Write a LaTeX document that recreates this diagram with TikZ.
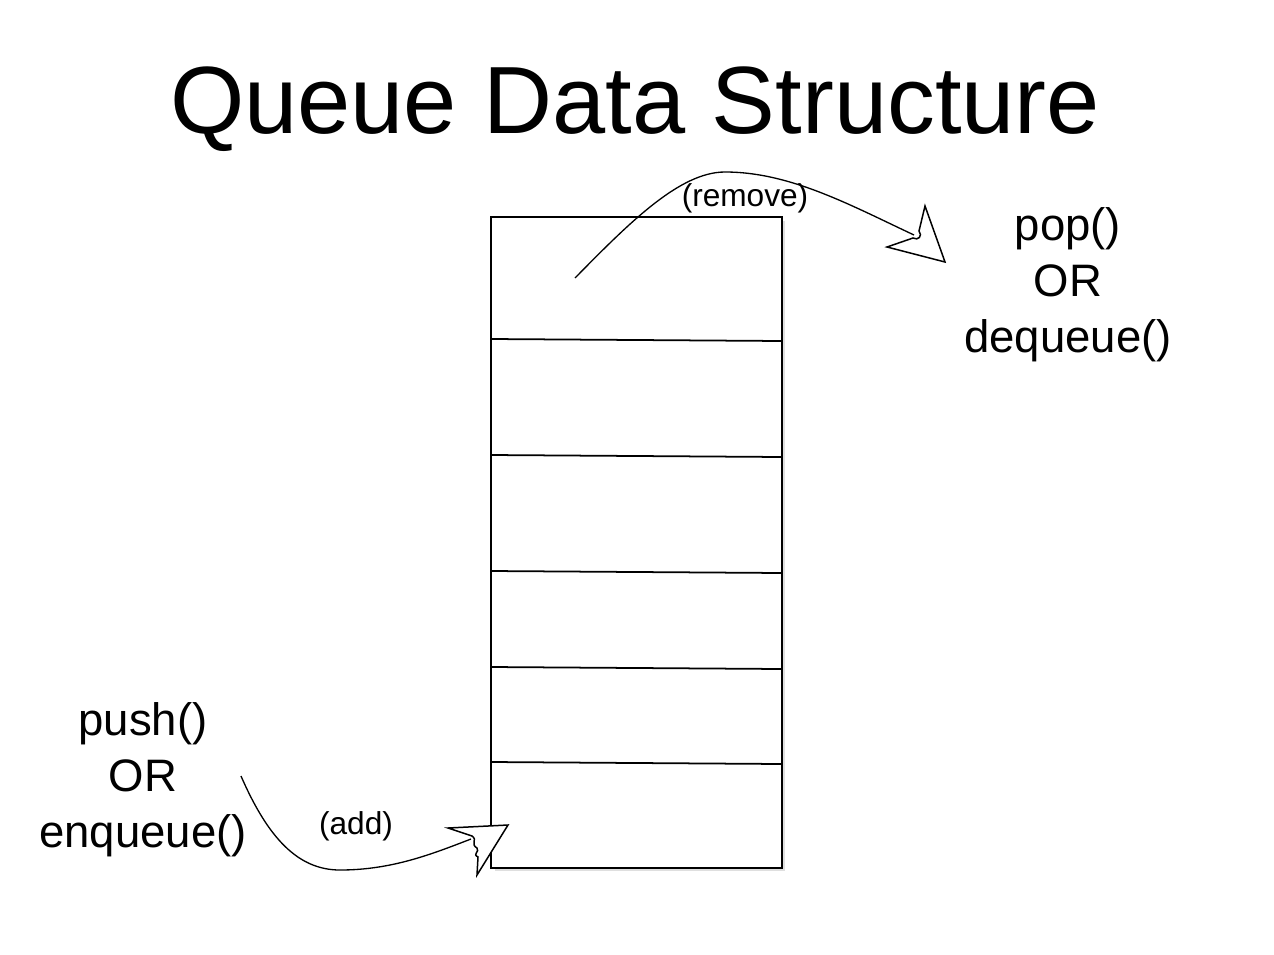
\documentclass[tikz,border=0pt]{standalone}
\usepackage{fontspec}
\setmainfont{Liberation Sans}
\usetikzlibrary{positioning,calc,shadows}

\begin{document}
\begin{tikzpicture}[
  x=0.02cm,y=-0.02cm,
  every node/.style={inner sep=0pt},
  title/.style={font=\fontsize{54.4}{60}\selectfont},
  oplabel/.style={font=\fontsize{25.9}{31.9}\selectfont,align=center},
  actlabel/.style={font=\fontsize{18}{21}\selectfont},
  slotbox/.style={draw,line width=1pt,fill=white,minimum width=5.82cm,minimum height=13.02cm,
                  drop shadow={opacity=0.25,shadow xshift=2pt,shadow yshift=-2pt}},
  slotline/.style={line width=1pt},
  curve/.style={line width=0.75pt},
  headshape/.style={line width=0.85pt,fill=white,line join=miter},
]
\useasboundingbox (0,0) rectangle (1274,954);

%% ── Title ────────────────────────────────────────────────────────────────
\node[title] (title) at (635,109) {Queue Data Structure};

%% ── Queue slots ──────────────────────────────────────────────────────────
\node[slotbox] (queue) at (636.5,542.5) {};
\coordinate (s1w) at (491,339); \coordinate (s1e) at (782,341);
\coordinate (s2w) at (491,455); \coordinate (s2e) at (782,457);
\coordinate (s3w) at (491,571); \coordinate (s3e) at (782,573);
\coordinate (s4w) at (491,667); \coordinate (s4e) at (782,669);
\coordinate (s5w) at (491,762); \coordinate (s5e) at (782,764);
\foreach \i in {1,...,5}
  \draw[slotline] (s\i w) -- (s\i e);

%% ── Operation labels ─────────────────────────────────────────────────────
\node[oplabel] (pop) at (1068,285) {pop()\\OR\\dequeue()};
\node[oplabel] (push) at (143,780) {push()\\OR\\enqueue()};
\node[actlabel] (remove) at (745,198) {(remove)};
\node[actlabel] (add) at (356,826) {(add)};

%% ── Remove arrow ─────────────────────────────────────────────────────────
\coordinate (rstart) at (575,278);
\coordinate (rtip) at (945,262);
\draw[curve] (rstart) .. controls (630,222) and (680,172) .. (725,172)
  .. controls (790,172) and (850,205) .. (914,235);
\draw[headshape] (rtip) -- (925,206) -- (919,231) .. controls (923,236) and (918,241) .. (913,238)
  -- (887,247) -- cycle;

%% ── Add arrow ────────────────────────────────────────────────────────────
\coordinate (astart) at (241,776);
\coordinate (atip) at (508,825);
\draw[curve] (astart) .. controls (268,838) and (298,870) .. (340,870)
  .. controls (392,870) and (432,854) .. (471,839);
\draw[headshape] (atip) -- (448,828) -- (472,836) .. controls (478,840) and (470,844) .. (477,848)
  .. controls (480,852) and (472,854) .. (478,857) -- (477,875) -- cycle;

\end{tikzpicture}
\end{document}
